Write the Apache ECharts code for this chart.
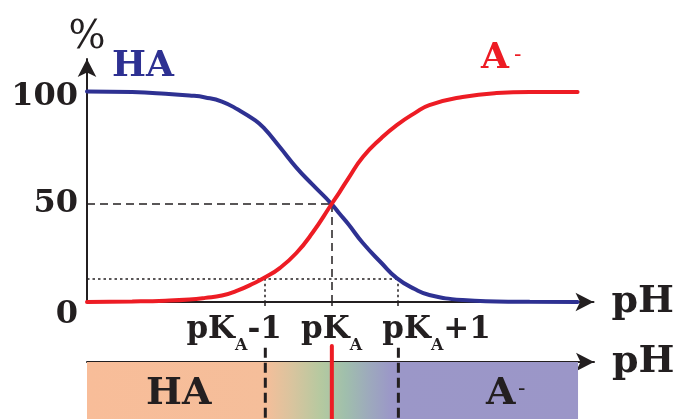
<!DOCTYPE html>
<html>
<head>
<meta charset="utf-8">
<script src="https://cdn.jsdelivr.net/npm/echarts@6/dist/echarts.min.js"></script>
<style>
html,body{margin:0;padding:0;background:#fff;}
#chart{width:677px;height:419px;}
</style>
</head>
<body>
<div id="chart"></div>
<script>
// pH expressed relative to pKA (pH - pKA)
const pHRel = [-3.68, -3.0, -2.5, -2.14, -1.9, -1.65, -1.41, -1.16, -1.02, -0.78, -0.53, -0.29, 0, 0.12, 0.25, 0.47, 0.75, 0.98, 1.25, 1.47, 1.97, 2.48, 2.98, 3.7];
const haPct = [107.4, 107.1, 106.3, 105.4, 104.4, 102.3, 98.2, 92.9, 88.8, 79.1, 68.6, 60.0, 50, 45.0, 39.8, 30.1, 19.9, 12.2, 6.6, 3.6, 1.0, 0.3, 0.1, 0];
const aPct  = [0, 0.3, 0.7, 1.3, 2.1, 3.3, 5.9, 9.7, 12.2, 17.3, 25.0, 35.2, 50, 56.1, 63.0, 74.0, 83.7, 90.3, 96.4, 100.5, 104.6, 106.6, 107.1, 107.1];
const yTicks = [0, 50, 100];
const xTicks = [-1, 0, 1];
const halfLevel = 50;      // 50 % at pH = pKA
const tenthLevel = 12.1;   // level reached at pKA ± 1
const barStart = -3.68, barEnd = 3.7;

const INK = '#231F20', BLUE = '#2E3192', RED = '#ED1C24';
const SERIF = '"DejaVu Serif", serif';
const X_MIN = -3.68, X_MAX = 3.94;

const chart = echarts.init(document.getElementById('chart'), null, {renderer: 'canvas'});

const axisArrow = {show: true, onZero: false, symbol: ['none', 'arrow'], symbolSize: [14, 18], lineStyle: {color: INK, width: 2}};

const T = {fontFamily: SERIF, fontWeight: 'bold', fontSize: 31, color: INK, lineHeight: 32, verticalAlign: 'top'};
const S = {fontFamily: SERIF, fontWeight: 'bold', fontSize: 16, color: INK, lineHeight: 64, verticalAlign: 'middle'};
const labelRich = {
  t: T,
  tr: Object.assign({}, T, {padding: [0, 62, 0, 0]}),
  tl: Object.assign({}, T, {padding: [0, 0, 0, 77]}),
  s: S
};
const xLabelFmt = v => {
  if (v === -1) return '{t|pK}{s|A}{tr|-1}';
  if (v === 0) return '{t|pK}{s|A}';
  return '{tl|pK}{s|A}{t|+1}';
};
const yRich = {
  v0:   {fontFamily: SERIF, fontWeight: 'bold', fontSize: 32, color: INK, padding: [26, 0, 0, 0]},
  v50:  {fontFamily: SERIF, fontWeight: 'bold', fontSize: 32, color: INK, padding: [0, 0, 0, 0]},
  v100: {fontFamily: SERIF, fontWeight: 'bold', fontSize: 32, color: INK, padding: [0, 0, 19, 0]}
};

// one label-only axis per pKA tick so the labels never compete for space
const labelAxis = v => ({
  type: 'value', gridIndex: 0, min: X_MIN, max: X_MAX, position: 'bottom',
  axisLine: {show: false}, axisTick: {show: false}, splitLine: {show: false},
  axisLabel: {show: true, customValues: [v], hideOverlap: false, formatter: xLabelFmt, rich: labelRich, margin: 12, verticalAlign: 'top'}
});

function barItem(params, api) {
  const p0 = api.coord([barStart, 1]);
  const p1 = api.coord([barEnd, 0]);
  const span = barEnd - barStart;
  const off = v => (v - barStart) / span;
  const lines = [];
  xTicks.forEach(t => {
    const top = api.coord([t, t === 0 ? 1.28 : 1.25]);
    const bot = api.coord([t, 0]);
    lines.push({
      type: 'line',
      shape: {x1: top[0], y1: top[1], x2: bot[0], y2: bot[1]},
      style: t === 0
        ? {stroke: RED, lineWidth: 4, lineCap: 'round'}
        : {stroke: INK, lineWidth: 3, lineDash: [10, 5]},
      z2: 10
    });
  });
  return {
    type: 'group',
    children: [{
      type: 'rect',
      shape: {x: p0[0], y: p0[1], width: p1[0] - p0[0], height: p1[1] - p0[1]},
      style: {
        fill: new echarts.graphic.LinearGradient(0, 0, 1, 0, [
          {offset: 0, color: '#F8BD99'},
          {offset: off(-1), color: '#F5BE9A'},
          {offset: off(-0.6), color: '#D9C49E'},
          {offset: off(-0.15), color: '#B4C9A0'},
          {offset: off(0.2), color: '#A0BFAC'},
          {offset: off(0.55), color: '#9DAABC'},
          {offset: off(0.9), color: '#9B97C8'},
          {offset: 1, color: '#9B96C8'}
        ])
      }
    }].concat(lines)
  };
}

const option = {
  backgroundColor: '#fff',
  animation: false,
  grid: [
    {left: 87, right: 83, top: 59, bottom: 117},
    {left: 87, right: 83, top: 362, bottom: 0}
  ],
  xAxis: [{
    type: 'value', gridIndex: 0, min: X_MIN, max: X_MAX,
    axisLine: axisArrow,
    axisTick: {show: true, customValues: xTicks, length: 4, lineStyle: {color: INK, width: 1.5}},
    axisLabel: {show: true, customValues: [0], hideOverlap: false, formatter: xLabelFmt, rich: labelRich, margin: 12, verticalAlign: 'top'},
    splitLine: {show: false},
    name: 'pH', nameLocation: 'end', nameGap: 18,
    nameTextStyle: {fontFamily: SERIF, fontWeight: 'bold', fontSize: 38, color: INK, align: 'left', verticalAlign: 'middle', padding: [10, 0, 0, 0]}
  }, {
    type: 'value', gridIndex: 1, min: X_MIN, max: X_MAX, position: 'top',
    axisLine: axisArrow,
    axisTick: {show: false}, axisLabel: {show: false}, splitLine: {show: false},
    name: 'pH', nameLocation: 'end', nameGap: 18,
    nameTextStyle: {fontFamily: SERIF, fontWeight: 'bold', fontSize: 38, color: INK, align: 'left', verticalAlign: 'middle', padding: [4, 0, 0, 0]}
  }, labelAxis(-1), labelAxis(1)],
  yAxis: [{
    type: 'value', gridIndex: 0, min: 0, max: 124,
    axisLine: axisArrow,
    axisTick: {show: false},
    axisLabel: {show: true, customValues: yTicks, hideOverlap: false, margin: 9, formatter: v => '{v' + v + '|' + v + '}', rich: yRich},
    splitLine: {show: false},
    name: '%', nameLocation: 'end', nameGap: 2,
    nameTextStyle: {fontFamily: SERIF, fontSize: 39, color: INK, align: 'center', verticalAlign: 'bottom'}
  }, {
    type: 'value', gridIndex: 1, min: 0, max: 1, show: false
  }],
  series: [{
    name: 'HA', type: 'line', xAxisIndex: 0, yAxisIndex: 0,
    data: pHRel.map((x, i) => [x, haPct[i]]),
    smooth: 0.5, showSymbol: false, symbol: 'none',
    lineStyle: {color: BLUE, width: 4, cap: 'round'}, z: 5,
    markLine: {
      silent: true, symbol: 'none', label: {show: false},
      lineStyle: {color: INK, width: 1.5, type: [8, 5]},
      data: [
        [{coord: [X_MIN, halfLevel]}, {coord: [0, halfLevel]}],
        [{coord: [0, halfLevel]}, {coord: [0, 0]}]
      ]
    }
  }, {
    name: 'A-', type: 'line', xAxisIndex: 0, yAxisIndex: 0,
    data: pHRel.map((x, i) => [x, aPct[i]]),
    smooth: 0.5, showSymbol: false, symbol: 'none',
    lineStyle: {color: RED, width: 4, cap: 'round'}, z: 6,
    markLine: {
      silent: true, symbol: 'none', label: {show: false},
      lineStyle: {color: INK, width: 1.5, type: [2.5, 3]},
      data: [
        [{coord: [X_MIN, tenthLevel]}, {coord: [1, tenthLevel]}],
        [{coord: [-1, tenthLevel]}, {coord: [-1, 0]}],
        [{coord: [1, tenthLevel]}, {coord: [1, 0]}]
      ]
    }
  }, {
    name: 'bar', type: 'custom', xAxisIndex: 1, yAxisIndex: 1,
    data: [[barStart, 0]], renderItem: barItem, silent: true, clip: false, z: 1
  }],
  graphic: [
    {type: 'text', left: 112, top: 49, style: {text: 'HA', font: 'bold 36px ' + SERIF, fill: BLUE}},
    {type: 'text', left: 481, top: 41, style: {text: 'A', font: 'bold 36px ' + SERIF, fill: RED}},
    {type: 'text', left: 514, top: 44, style: {text: '-', font: '22px ' + SERIF, fill: RED}},
    {type: 'text', left: 146, top: 375, style: {text: 'HA', font: 'bold 38px ' + SERIF, fill: INK}, z: 20},
    {type: 'text', left: 486, top: 375, style: {text: 'A', font: 'bold 38px ' + SERIF, fill: INK}, z: 20},
    {type: 'text', left: 518, top: 378, style: {text: '-', font: '22px ' + SERIF, fill: INK}, z: 20}
  ]
};
chart.setOption(option);
</script>
</body>
</html>
